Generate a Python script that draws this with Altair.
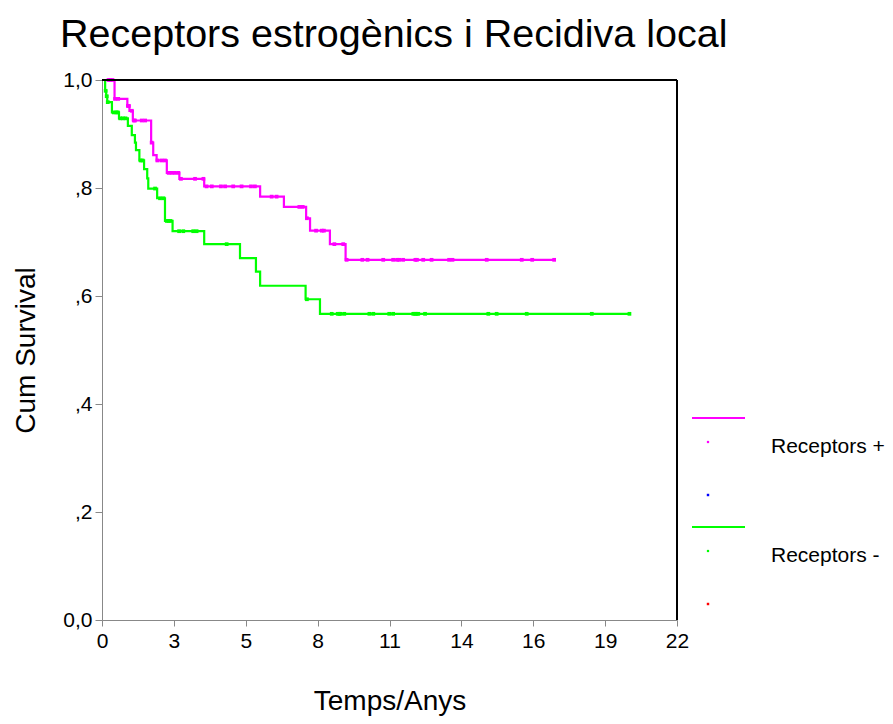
import altair as alt
import pandas as pd

TITLE = "Receptors estrogènics i Recidiva local"
GROUPS = ["Receptors +", "Receptors -"]
LINE_COLORS = ["#FF00FF", "#00FF00"]
CENS_COLORS = ["#0000FF", "#FF0000"]

# Kaplan-Meier step points (time in years, cumulative survival)
pos_times = [0, 0.48, 0.97, 1.05, 1.18, 1.88, 1.96, 2.09, 2.48, 2.96, 3.91, 6.05, 6.96, 7.81, 7.96, 8.72, 9.32]
pos_surv = [1.0, 0.965, 0.952, 0.943, 0.925, 0.884, 0.861, 0.851, 0.828, 0.817, 0.803, 0.784, 0.765, 0.744, 0.721, 0.696, 0.667]
pos_end = 17.32

neg_times = [0, 0.12, 0.16, 0.20, 0.38, 0.65, 0.99, 1.14, 1.26, 1.30, 1.43, 1.61, 1.73, 1.77, 2.11, 2.41, 2.70, 3.91, 5.28, 5.89, 6.05, 7.79, 8.34]
neg_surv = [1.0, 0.98, 0.97, 0.959, 0.940, 0.929, 0.915, 0.898, 0.884, 0.870, 0.851, 0.835, 0.818, 0.799, 0.781, 0.739, 0.720, 0.696, 0.670, 0.645, 0.619, 0.594, 0.567]
neg_end = 20.2

# censored observations (times)
pos_cens = [0.25, 0.32, 0.40, 0.50, 0.62, 0.99, 1.03, 1.14, 1.22, 1.26, 1.52, 1.65, 1.90, 2.12, 2.28, 2.41,
            2.55, 2.67, 2.79, 2.92, 3.02, 3.56, 3.88, 4.00, 4.20, 4.55, 4.71, 5.02, 5.34, 5.70, 5.85, 6.49,
            6.68, 7.55, 7.68, 7.84, 8.19, 8.41, 8.49, 8.89, 9.23, 9.36, 9.96, 10.16, 10.76, 11.14, 11.29,
            11.37, 11.52, 11.99, 12.05, 12.29, 12.61, 13.28, 13.41, 14.72, 16.06, 16.46, 17.30]
neg_cens = [0.14, 0.18, 0.22, 0.45, 0.55, 0.60, 0.70, 0.80, 0.90, 1.48, 1.55, 2.03, 2.22, 2.35, 2.48, 2.55,
            2.62, 2.95, 3.11, 3.49, 3.62, 4.77, 7.84, 8.79, 9.02, 9.08, 9.13, 9.27, 10.23, 10.38, 10.99,
            11.14, 11.91, 11.98, 12.04, 12.10, 12.36, 14.78, 15.10, 16.25, 18.74, 20.18]

x_ticks = [0, 2.75, 5.5, 8.25, 11, 13.75, 16.5, 19.25, 22]
x_labels = ["0", "3", "5", "8", "11", "14", "16", "19", "22"]
y_ticks = [0, 0.2, 0.4, 0.6, 0.8, 1.0]
y_labels = ["0,0", ",2", ",4", ",6", ",8", "1,0"]
X_MAX = 22

FONT = "Liberation Sans"


def step_value(times, surv, t):
    v = surv[0]
    for ti, si in zip(times, surv):
        if ti <= t:
            v = si
    return v


rows = []
for g, times, surv, end in [(GROUPS[0], pos_times, pos_surv, pos_end), (GROUPS[1], neg_times, neg_surv, neg_end)]:
    for t, s in zip(times, surv):
        rows.append({"group": g, "t": t, "s": s})
    rows.append({"group": g, "t": end, "s": surv[-1]})
curve_df = pd.DataFrame(rows)

crows = []
for g, times, surv, cens in [(GROUPS[0], pos_times, pos_surv, pos_cens), (GROUPS[1], neg_times, neg_surv, neg_cens)]:
    for t in cens:
        crows.append({"group": g, "t": t, "s": step_value(times, surv, t)})
cens_df = pd.DataFrame(crows)

x_expr = "[" + ",".join("'%s'" % l for l in x_labels) + "][round(datum.value / 2.75)]"
y_expr = "[" + ",".join("'%s'" % l for l in y_labels) + "][round(datum.value * 5)]"

x_enc = alt.X("t:Q", scale=alt.Scale(domain=[0, X_MAX], nice=False, zero=False),
              axis=alt.Axis(values=x_ticks, labelExpr=x_expr, title="Temps/Anys", grid=False,
                            labelFontSize=21, titleFontSize=28, titlePadding=36, labelPadding=4,
                            titleFontWeight="normal", titleFont=FONT, labelFont=FONT,
                            tickSize=6, labelFlush=False, labelOverlap=False))
y_enc = alt.Y("s:Q", scale=alt.Scale(domain=[0, 1], nice=False),
              axis=alt.Axis(values=y_ticks, labelExpr=y_expr, title="Cum Survival", grid=False,
                            labelFontSize=21, titleFontSize=28, titlePadding=22, labelPadding=3,
                            titleFontWeight="normal", titleFont=FONT, labelFont=FONT,
                            tickSize=7, labelFlush=False, labelOverlap=False))

lines = alt.Chart(curve_df).mark_line(interpolate="step-after", strokeWidth=2.2).encode(
    x=x_enc, y=y_enc,
    color=alt.Color("group:N", scale=alt.Scale(domain=GROUPS, range=LINE_COLORS), legend=None),
    detail="group:N",
)

cens = alt.Chart(cens_df).mark_square(size=14, opacity=1).encode(
    x="t:Q", y="s:Q",
    color=alt.Color("group:N", scale=alt.Scale(domain=GROUPS, range=CENS_COLORS), legend=None),
)

frame_df = pd.DataFrame({"k": [0]})
frame_top = alt.Chart(frame_df).mark_rule(color="black", strokeWidth=2).encode(
    x=alt.datum(0), x2=alt.datum(X_MAX), y=alt.datum(1))
frame_right = alt.Chart(frame_df).mark_rule(color="black", strokeWidth=2).encode(
    x=alt.datum(X_MAX), y=alt.datum(0), y2=alt.datum(1))

title_layer = alt.Chart(pd.DataFrame({"txt": [TITLE]})).mark_text(
    align="left", baseline="alphabetic", fontSize=39.5, font=FONT, color="black"
).encode(x=alt.value(-42), y=alt.value(-33), text="txt:N")

# manual legend (SPSS style)
def one(v):
    return pd.DataFrame({"v": [v]})

leg = []
for i, g in enumerate(GROUPS):
    base_y = 338 + i * 109
    leg.append(alt.Chart(one(g)).mark_rule(strokeWidth=2, color=LINE_COLORS[i]).encode(
        x=alt.value(590), x2=alt.value(643), y=alt.value(base_y)))
    leg.append(alt.Chart(one(g)).mark_square(size=5, opacity=1, color=LINE_COLORS[i]).encode(
        x=alt.value(606), y=alt.value(base_y + 24)))
    leg.append(alt.Chart(one(g)).mark_square(size=6, opacity=1, color=CENS_COLORS[i]).encode(
        x=alt.value(606), y=alt.value(base_y + 77)))
    leg.append(alt.Chart(one(g)).mark_text(align="left", baseline="middle", fontSize=21, font=FONT,
                                           color="black").encode(
        x=alt.value(669), y=alt.value(base_y + 29), text="v:N"))

chart = alt.layer(lines, cens, frame_top, frame_right, title_layer, *leg).properties(
    width=575, height=540,
    autosize=alt.AutoSizeParams(type="none"),
    padding={"left": 94, "top": 72, "right": 208, "bottom": 96},
).configure_view(strokeWidth=0).configure_axis(
    domainColor="black", domainWidth=2, tickColor="black", tickWidth=1.5,
    labelColor="black", titleColor="black",
).configure(background="white")

chart.save("out.html", embed_options={"renderer": "svg", "actions": False})
